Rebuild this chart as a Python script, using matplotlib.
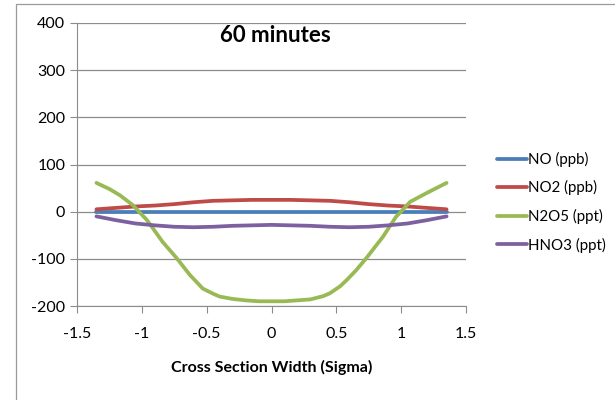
import numpy as np
import matplotlib.pyplot as plt
from matplotlib.patches import Rectangle

plt.rcParams['font.family'] = ['Lato', 'DejaVu Sans']
plt.rcParams['axes.unicode_minus'] = False

# data
sigma = [-1.35, -1.2, -1.05, -0.9, -0.75, -0.6, -0.45, -0.3, -0.15, 0.0,
         0.15, 0.3, 0.45, 0.6, 0.75, 0.9, 1.05, 1.2, 1.35]
no = [0] * 19
no2 = [5, 8, 11, 13, 16, 20, 23, 24, 25, 25, 25, 24, 23, 20, 16, 13, 11, 8, 5]
hno3 = [-10, -18, -25, -29, -32, -33, -32, -30, -29, -28,
        -29, -30, -32, -33, -32, -29, -25, -18, -10]
sigma_n2o5 = [-1.35, -1.25, -1.17, -1.07, -0.96, -0.84, -0.73, -0.63, -0.53,
              -0.45, -0.4, -0.3, -0.2, -0.1, 0.0, 0.1, 0.2, 0.3, 0.4, 0.45,
              0.53, 0.58, 0.65, 0.73, 0.86, 0.96, 1.07, 1.2, 1.35]
n2o5 = [61, 48, 35, 14, -18, -64, -99, -134, -163,
        -174, -180, -185, -188, -190, -190, -190, -188, -186, -179, -173,
        -158, -145, -125, -99, -53, -11, 21, 40, 61]
names = ['NO (ppb)', 'NO2 (ppb)', 'N2O5 (ppt)', 'HNO3 (ppt)']
xticks = [-1.5, -1, -0.5, 0, 0.5, 1, 1.5]
xlabels = ['-1.5', '-1', '-0.5', '0', '0.5', '1', '1.5']
yticks = [-200, -100, 0, 100, 200, 300, 400]

colors = ['#4A7EBB', '#BE4B48', '#98B954', '#7D60A0']

fig = plt.figure(figsize=(6.15, 4.0), dpi=100)
fig.patches.append(Rectangle((16 / 615, -0.05), 1.1, 1 - 4 / 400 + 0.05,
                             transform=fig.transFigure, fill=False,
                             edgecolor='#9a9a9a', linewidth=0.9))
ax = fig.add_axes([77 / 615, 1 - 306 / 400, 389 / 615, 283 / 400])

series = [(sigma, no), (sigma, no2), (sigma_n2o5, n2o5), (sigma, hno3)]
for (xs, ys), c, n in zip(series, colors, names):
    ax.plot(xs, ys, color=c, linewidth=2.7, label=n, solid_capstyle='round',
            solid_joinstyle='round')

ax.set_xlim(-1.5, 1.5)
ax.set_ylim(-200, 400)
ax.set_xticks(xticks)
ax.set_xticklabels(xlabels)
ax.set_yticks(yticks)
ax.yaxis.grid(True, color='#8c8c8c', linewidth=0.9)
ax.set_axisbelow(True)
for s in ['top', 'right']:
    ax.spines[s].set_visible(False)
for s in ['left', 'bottom']:
    ax.spines[s].set_color('#8c8c8c')
ax.tick_params(colors='#8c8c8c', labelcolor='black', labelsize=11.5,
               length=5, direction='out')
ax.tick_params(axis='x', pad=10)

ax.set_title('60 minutes', fontsize=16, fontweight='bold', x=0.51, y=0.905)
ax.set_xlabel('Cross Section Width (Sigma)', fontsize=11.5,
              fontweight='bold', labelpad=14)

ax.legend(loc='center left', bbox_to_anchor=(1.08, 0.367), frameon=False,
          fontsize=10.8, handlelength=2.0, handletextpad=0.05,
          labelspacing=0.9, borderpad=0, borderaxespad=0)

fig.savefig('out.png', dpi=100)
